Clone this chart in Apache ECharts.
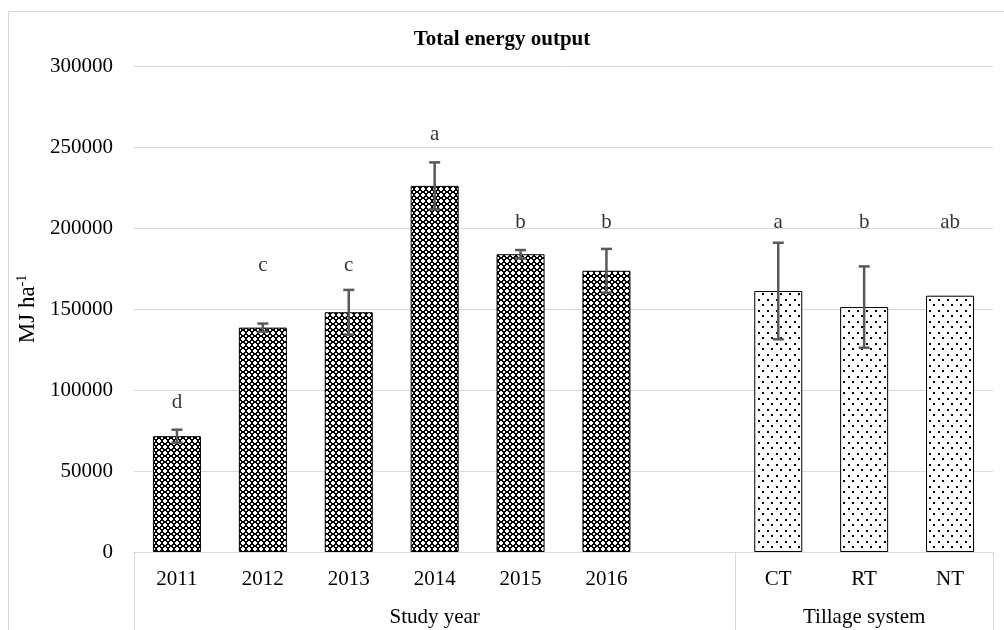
<!DOCTYPE html>
<html>
<head>
<meta charset="utf-8">
<script src="https://cdn.jsdelivr.net/npm/echarts@6/dist/echarts.min.js"></script>
<style>
html,body{margin:0;padding:0;background:#fff;}
#c{width:1004px;height:630px;}
</style>
</head>
<body>
<div id="c"></div>
<script>
// ---- data ----
const categories = ['2011','2012','2013','2014','2015','2016','','CT','RT','NT'];
const groupLabels = ['','','','Study year','','','','','Tillage system',''];
const values = [71500, 138500, 148000, 226000, 183800, 173600, null, 161100, 151200, 158200];
const errors = [4000, 2500, 13800, 14500, 2600, 13500, null, 29800, 25100, null];
const letters = ['d','c','c','a','b','b','','a','b','ab'];
const letterPos = [92600, 177000, 177000, 258000, 203700, 203700, null, 203700, 203700, 203700];
const yTicks = {min: 0, max: 300000, interval: 50000};

// ---- patterns ----
function checkerPattern(){
  const c = document.createElement('canvas'); c.width = 6; c.height = 6;
  const g = c.getContext('2d');
  g.fillStyle = '#000'; g.fillRect(0,0,6,6);
  g.fillStyle = '#fff';
  // octagon at centre
  [[2,2],[3,2],[2,3],[3,3],[2,1],[3,1],[1,2],[1,3],[4,2],[4,3],[2,4],[3,4]].forEach(p=>g.fillRect(p[0],p[1],1,1));
  // plus at corners
  [[0,0],[5,0],[0,5],[5,5]].forEach(p=>g.fillRect(p[0],p[1],1,1));
  return c;
}
function dotPattern(){
  const c = document.createElement('canvas'); c.width = 9; c.height = 11;
  const g = c.getContext('2d');
  g.fillStyle = '#fff'; g.fillRect(0,0,9,11);
  g.fillStyle = '#000';
  g.fillRect(2,2,2,2); g.fillRect(6,7,2,2);
  return c;
}
const patYear = {image: checkerPattern(), repeat: 'repeat'};
const patTill = {image: dotPattern(), repeat: 'repeat'};

const font = '"Liberation Serif", "Times New Roman", serif';
const barData = values.map((v,i)=>({
  value: v,
  itemStyle: {color: i < 6 ? patYear : patTill, borderColor: '#000', borderWidth: 1}
}));
const errData = [];
values.forEach((v,i)=>{ if (v != null && errors[i] != null) errData.push([i, v, errors[i]]); });
const letterData = [];
letterPos.forEach((p,i)=>{ if (p != null) letterData.push([i, p, letters[i]]); });

const chart = echarts.init(document.getElementById('c'), null, {renderer: 'canvas'});
chart.setOption({
  animation: false,
  backgroundColor: '#fff',
  title: {
    text: 'Total energy output', left: 'center', top: 24,
    textStyle: {fontFamily: font, fontWeight: 'bold', fontSize: 21, color: '#000'}
  },
  graphic: [{
    type: 'rect', shape: {x: 8.5, y: 11.5, width: 1010, height: 640},
    style: {fill: null, stroke: '#d9d9d9', lineWidth: 1}, silent: true
  }],
  grid: {left: 134, right: 11, top: 66, bottom: 78, containLabel: false},
  xAxis: [{
    type: 'category', data: categories, boundaryGap: true,
    axisLine: {show: true, lineStyle: {color: '#d9d9d9', width: 1}},
    axisTick: {show: true, length: 80, lineStyle: {color: '#d9d9d9', width: 1},
      interval: function(idx){ return idx === 0 || idx === 7; }},
    axisLabel: {interval: 0, margin: 17, fontFamily: font, fontSize: 21, color: '#000'},
    splitLine: {show: false}
  },{
    type: 'category', data: groupLabels, position: 'bottom', boundaryGap: true,
    axisLine: {show: false}, axisTick: {show: false},
    axisLabel: {interval: 0, margin: 55, fontFamily: font, fontSize: 21, color: '#000'},
    splitLine: {show: false}
  }],
  yAxis: {
    type: 'value', min: yTicks.min, max: yTicks.max, interval: yTicks.interval,
    name: '{a|MJ ha}{s|-1}', nameLocation: 'middle', nameGap: 92, nameRotate: 90,
    nameTextStyle: {rich: {
      a: {fontFamily: font, fontSize: 23, color: '#000'},
      s: {fontFamily: font, fontSize: 14, color: '#000', verticalAlign: 'top', padding: [0,0,10,0]}
    }},
    axisLine: {show: false}, axisTick: {show: false},
    axisLabel: {margin: 21, fontFamily: font, fontSize: 21, color: '#000', formatter: v => String(v)},
    splitLine: {show: true, lineStyle: {color: '#d9d9d9', width: 1}}
  },
  series: [{
    type: 'bar', data: barData, barWidth: 48, xAxisIndex: 0
  },{
    type: 'custom', xAxisIndex: 0, data: errData, z: 5,
    renderItem: function(params, api){
      const x = api.value(0), v = api.value(1), e = api.value(2);
      const hi = api.coord([x, v + e]), lo = api.coord([x, v - e]);
      const hw = 5.5, st = {stroke: '#595959', lineWidth: 2.5};
      return {type: 'group', children: [
        {type: 'line', shape: {x1: hi[0], y1: hi[1], x2: lo[0], y2: lo[1]}, style: st},
        {type: 'line', shape: {x1: hi[0]-hw, y1: hi[1], x2: hi[0]+hw, y2: hi[1]}, style: st},
        {type: 'line', shape: {x1: lo[0]-hw, y1: lo[1], x2: lo[0]+hw, y2: lo[1]}, style: st}
      ]};
    }
  },{
    type: 'scatter', xAxisIndex: 0, data: letterData, symbolSize: 0, z: 6,
    label: {show: true, position: 'inside', formatter: p => p.value[2],
      fontFamily: font, fontSize: 21, color: '#000'}
  }]
});
</script>
</body>
</html>
